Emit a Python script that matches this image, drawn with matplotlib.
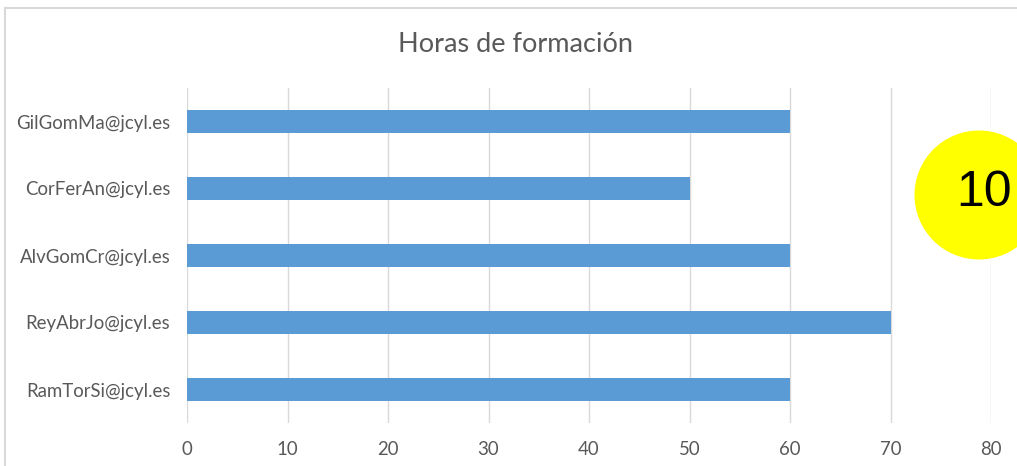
import matplotlib
matplotlib.use("Agg")
from matplotlib import pyplot as plt
from matplotlib.patches import Ellipse, Rectangle

usuarios = ["GilGomMa@jcyl.es", "CorFerAn@jcyl.es", "AlvGomCr@jcyl.es",
            "ReyAbrJo@jcyl.es", "RamTorSi@jcyl.es"]
horas = [60, 50, 60, 70, 60]
ticks = [0, 10, 20, 30, 40, 50, 60, 70, 80]
titulo = "Horas de formación"
marca = "10"

W, H = 1017, 466
plt.rcParams["font.family"] = ["Lato", "DejaVu Sans"]
gris = "#595959"

fig = plt.figure(figsize=(W / 100, H / 100), dpi=100)
ax = fig.add_axes([187 / W, 1 - 423 / H, (991 - 187) / W, (423 - 88) / H])

pos = list(range(len(usuarios)))[::-1]
ax.barh(pos, horas, height=0.35, color="#5B9BD5", zorder=3)
ax.set_xlim(0, 80)
ax.set_ylim(-0.5, len(usuarios) - 0.5)
ax.set_xticks(ticks)
ax.set_yticks(pos)
ax.set_yticklabels(usuarios)
ax.tick_params(length=0, labelsize=13.4, colors=gris)
ax.tick_params(axis="x", pad=13)
ax.tick_params(axis="y", pad=12)
ax.grid(axis="x", color="#d9d9d9", linewidth=1)
for s in ax.spines.values():
    s.set_visible(False)

fig.text(515 / W, 1 - 45 / H, titulo, ha="center", va="center", fontsize=19.5, color=gris)

# marco del gráfico
fig.add_artist(Rectangle((5 / W, -0.1), 1.2, 1 - 8 / H + 0.1, transform=fig.transFigure,
                         fill=False, edgecolor="#d9d9d9", linewidth=1.5))

# círculo amarillo
fig.add_artist(Ellipse((979 / W, 1 - 195 / H), 129 / W, 129 / H, transform=fig.transFigure,
                       facecolor="#ffff00", edgecolor="none", zorder=5))
fig.text(984 / W, 1 - 193 / H, marca, ha="center", va="center", fontsize=36,
         family=["Liberation Sans"], color="black", zorder=6)

fig.savefig("out.png", dpi=100)
plt.close(fig)
